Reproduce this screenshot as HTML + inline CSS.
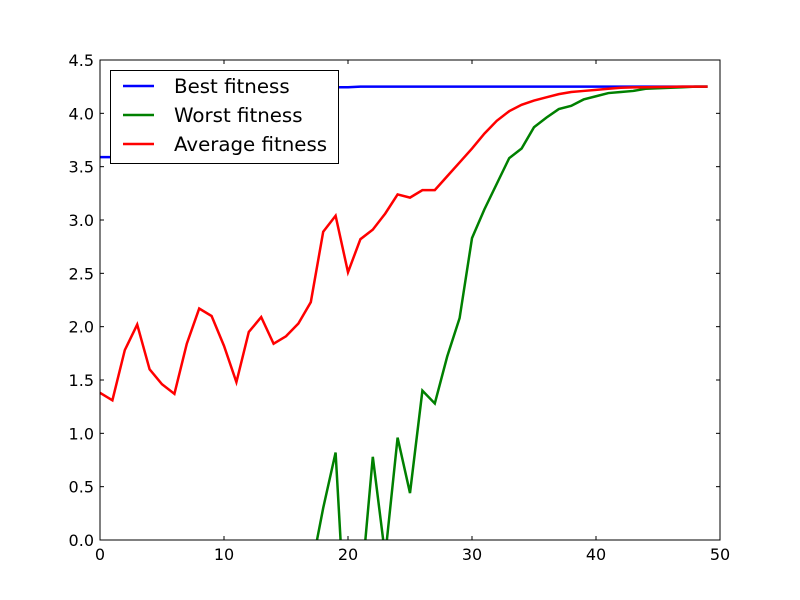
<!DOCTYPE html>
<html><head><meta charset="utf-8"><style>
html,body{margin:0;padding:0;background:#fff;width:800px;height:600px;overflow:hidden}
svg{display:block;overflow:hidden}
svg text{font-family:"DejaVu Sans","Liberation Sans",sans-serif}
</style></head><body>
<svg id="chart" width="800" height="600" viewBox="0 0 800 600"></svg>
<script>
const xTicks=[0,10,20,30,40,50];
const yTicks=[0.0,0.5,1.0,1.5,2.0,2.5,3.0,3.5,4.0,4.5];
const yTickLabels=["0.0","0.5","1.0","1.5","2.0","2.5","3.0","3.5","4.0","4.5"];
const bestFitness=[3.59,3.59,3.9,4.05,4.12,4.16,4.19,4.2,4.21,4.22,4.225,4.23,4.23,4.235,4.235,4.24,4.24,4.24,4.24,4.245,4.245,4.25,4.25,4.25,4.25,4.25,4.25,4.25,4.25,4.25,4.25,4.25,4.25,4.25,4.25,4.25,4.25,4.25,4.25,4.25,4.25,4.25,4.25,4.25,4.25,4.25,4.25,4.25,4.25,4.25];
const worstFitness=[-3,-3,-3,-3,-3,-3,-3,-3,-3,-3,-3,-3,-3,-3,-3,-3,-2,-0.3,0.3,0.82,-1.23,-0.52,0.78,-0.15,0.96,0.44,1.40,1.28,1.72,2.08,2.83,3.10,3.34,3.58,3.67,3.87,3.96,4.04,4.07,4.13,4.16,4.19,4.20,4.21,4.23,4.235,4.24,4.245,4.25,4.25];
const avgFitness=[1.38,1.31,1.78,2.02,1.60,1.46,1.37,1.84,2.17,2.10,1.82,1.48,1.95,2.09,1.84,1.91,2.03,2.23,2.89,3.04,2.51,2.82,2.91,3.06,3.24,3.21,3.28,3.28,3.41,3.54,3.67,3.81,3.93,4.02,4.08,4.12,4.15,4.18,4.20,4.21,4.22,4.23,4.24,4.243,4.245,4.247,4.248,4.25,4.25,4.25];
const L=100,R=720,T=60,B=540;
const xs=v=>L+(v-0)/50*(R-L);
const ys=v=>B-(v-0)/4.5*(B-T);
const NS="http://www.w3.org/2000/svg";
const svg=document.getElementById('chart');
function mk(tag,attrs,parent){const e=document.createElementNS(NS,tag);for(const k in attrs)e.setAttribute(k,attrs[k]);(parent||svg).appendChild(e);return e;}
const plot=mk('g',{});


// build path clipped at y=0 (values below axis hidden)
function pathD(data){
  let d='',pen=false;
  for(let i=0;i<data.length;i++){
    const v=data[i];
    if(i>0){
      const p=data[i-1];
      if((p<0)!==(v<0)){
        const f=p/(p-v);const xc=xs(i-1+f),yc=ys(0);
        if(p<0){d+='M'+xc+','+yc;pen=true;}else{d+='L'+xc+','+yc;pen=false;}
      }
    }
    if(v>=0){d+=(pen?'L':'M')+xs(i)+','+ys(v);pen=true;}
  }
  return d;
}
function line(data,color,name){
  const p=mk('path',{d:pathD(data),fill:'none',stroke:color,'stroke-width':2.5,'stroke-linejoin':'miter','stroke-linecap':'butt'},plot);
  
  
}
line(bestFitness,'#0000ff','best-fitness-line');
line(worstFitness,'#008000','worst-fitness-line');
line(avgFitness,'#ff0000','average-fitness-line');
const frame=mk('rect',{x:L,y:T,width:R-L,height:B-T,fill:'none',stroke:'#000','stroke-width':1});


xTicks.forEach(v=>{
  const x=xs(v);
  mk('line',{x1:x,x2:x,y1:B,y2:B-4,stroke:'#000'});
  mk('line',{x1:x,x2:x,y1:T,y2:T+4,stroke:'#000'});
  const t=mk('text',{x:x,y:B+20,'text-anchor':'middle','font-size':16});
  t.textContent=v;
  
  
});
yTicks.forEach((v,i)=>{
  const y=ys(v);
  mk('line',{x1:L,x2:L+4,y1:y,y2:y,stroke:'#000'});
  mk('line',{x1:R,x2:R-4,y1:y,y2:y,stroke:'#000'});
  const t=mk('text',{x:L-6,y:y+6,'text-anchor':'end','font-size':16});
  t.textContent=yTickLabels[i];
  
  
});
const lg=mk('g',{});


mk('rect',{x:110.5,y:70.5,width:228,height:93,fill:'#fff',stroke:'#000'},lg);
[['Best fitness','#0000ff'],['Worst fitness','#008000'],['Average fitness','#ff0000']].forEach((e,i)=>{
  const y=86+i*29;
  const g=mk('g',{},lg);
  
  
  mk('line',{x1:123,x2:154,y1:y,y2:y,stroke:e[1],'stroke-width':2.5},g);
  const t=mk('text',{x:174,y:y+7,'font-size':19.8},g);
  t.textContent=e[0];
});
</script>
</body></html>
